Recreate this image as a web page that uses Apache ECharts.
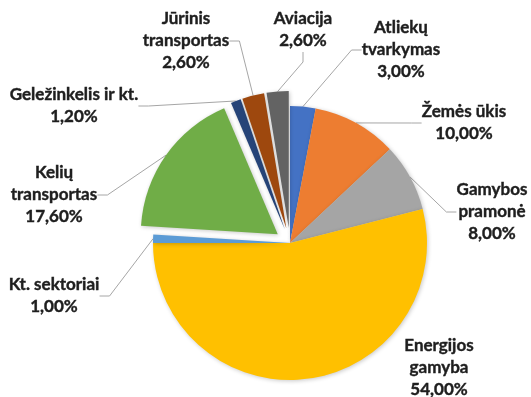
<!DOCTYPE html>
<html>
<head>
<meta charset="utf-8">
<script src="https://cdn.jsdelivr.net/npm/echarts@6/dist/echarts.min.js"></script>
<style>
  html, body { margin: 0; padding: 0; background: #fff; }
  #chart { width: 531px; height: 397px; }
</style>
</head>
<body>
<div id="chart"></div>
<script>
// Emisijų pasiskirstymas pagal sektorius (%), pradedant nuo viršaus pagal laikrodžio rodyklę
const sectors = [
  'Atliekų\ntvarkymas',
  'Žemės ūkis',
  'Gamybos\npramonė',
  'Energijos\ngamyba',
  'Kt. sektoriai',
  'Kelių\ntransportas',
  'Geležinkelis ir kt.',
  'Jūrinis\ntransportas',
  'Aviacija'
];
const shares = [3.0, 10.0, 8.0, 54.0, 1.0, 17.6, 1.2, 2.6, 2.6];
const sliceColors = ['#4472C4', '#ED7D31', '#A5A5A5', '#FFC000', '#5B9BD5', '#70AD47', '#264478', '#9E480E', '#636363'];
// atitraukti sektoriai
const pulledOut = [false, false, false, false, false, true, true, true, true];

// žymų centrai
const labelSpots = [
  [401, 50], [464, 123], [492, 212], [439, 368], [54, 296],
  [54, 195], [74, 106], [186, 41], [303, 30]
];
// žymė šalia sektoriaus, todėl be jungiamosios linijos
const noLeader = [3];

const CENTER = [290, 243];
const RADIUS = 137;
const PULL = 15;

const fmt = v => v.toFixed(2).replace('.', ',') + '%';
const total = shares.reduce((a, b) => a + b, 0);

// sektoriaus pusiaukampinės kryptis (laipsniais nuo viršaus pagal laikrodžio rodyklę)
function midAngle(idx) {
  let before = 0;
  for (let k = 0; k < idx; k++) before += shares[k];
  return (before + shares[idx] / 2) / total * 360;
}

// kiekviena serija rodo tik savo sektorius, kiti lieka permatomi
function makeSeries(visible, center) {
  return {
    type: 'pie',
    center: center,
    radius: RADIUS,
    startAngle: 90,
    clockwise: true,
    avoidLabelOverlap: false,
    silent: true,
    data: sectors.map((name, i) => {
      const on = visible(i);
      return {
        name: name,
        value: shares[i],
        itemStyle: on ? { color: sliceColors[i] } : { color: 'rgba(0,0,0,0)', shadowBlur: 0 },
        label: { show: on },
        labelLine: { show: on && noLeader.indexOf(i) < 0 }
      };
    }),
    itemStyle: {
      shadowBlur: 4,
      shadowColor: 'rgba(0,0,0,0.22)',
      shadowOffsetX: 1,
      shadowOffsetY: 1
    },
    label: {
      position: 'outside',
      formatter: p => p.name + '\n' + fmt(p.value),
      fontFamily: 'Lato',
      fontWeight: 'bold',
      fontSize: 17,
      lineHeight: 22,
      color: '#1e1e1e',
      textBorderColor: '#1e1e1e',
      textBorderWidth: 0.4,
      align: 'center'
    },
    labelLine: {
      length: 10,
      length2: 10,
      lineStyle: { color: '#A6A6A6', width: 1 }
    },
    labelLayout: params => ({
      x: labelSpots[params.dataIndex][0],
      y: labelSpots[params.dataIndex][1],
      align: 'center',
      verticalAlign: 'middle'
    }),
    emphasis: { disabled: true }
  };
}

const series = [makeSeries(i => !pulledOut[i], CENTER)];
pulledOut.forEach((p, i) => {
  if (!p) return;
  const a = midAngle(i) * Math.PI / 180;
  const c = [CENTER[0] + PULL * Math.sin(a), CENTER[1] - PULL * Math.cos(a)];
  series.push(makeSeries(j => j === i, c));
});

const chart = echarts.init(document.getElementById('chart'), null, { renderer: 'canvas' });
chart.setOption({
  animation: false,
  backgroundColor: '#ffffff',
  series: series
});
</script>
</body>
</html>
